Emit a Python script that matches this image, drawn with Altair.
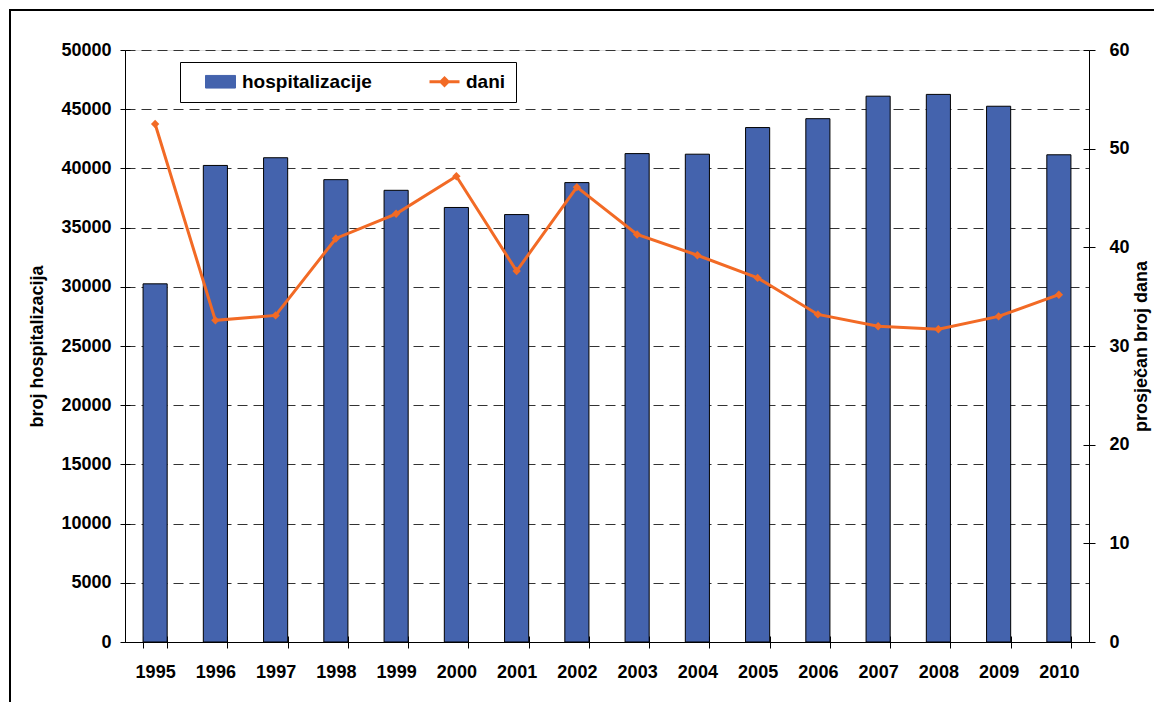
import altair as alt
import pandas as pd

years = ["1995", "1996", "1997", "1998", "1999", "2000", "2001", "2002",
         "2003", "2004", "2005", "2006", "2007", "2008", "2009", "2010"]
hospitalizacije = [30250, 40250, 40900, 39050, 38150, 36700, 36100, 38800,
                   41250, 41200, 43450, 44200, 46100, 46250, 45250, 41150]
dani = [52.5, 32.6, 33.1, 40.9, 43.4, 47.2, 37.6, 46.1,
        41.3, 39.2, 36.9, 33.2, 32.0, 31.7, 33.0, 35.2]
left_ticks = [0, 5000, 10000, 15000, 20000, 25000, 30000, 35000, 40000, 45000, 50000]
right_ticks = [0, 10, 20, 30, 40, 50, 60]
series = ["hospitalizacije", "dani"]

BLUE = "#4463ad"
ORANGE = "#f26a25"
FONT = "Liberation Sans"
W, H = 964, 592

df = pd.DataFrame({
    "godina": years,
    "hosp": hospitalizacije,
    "dani": dani,
    "s1": series[0],
    "s2": series[1],
})

rect_path = "M-1,-0.42L1,-0.42L1,0.42L-1,0.42Z"
line_path = "M-1,0L1,0M0,-0.24L0.24,0L0,0.24L-0.24,0Z"

legend = alt.Legend(
    title=None,
    orient="none",
    legendX=55,
    legendY=12,
    direction="horizontal",
    columns=2,
    columnPadding=42,
    symbolSize=900,
    symbolOffset=21,
    labelOffset=12,
    labelFont=FONT,
    labelFontSize=19,
    labelFontWeight="bold",
    labelColor="black",
    labelLimit=400,
    padding=10,
    strokeColor="black",
    fillColor="white",
    symbolType={"expr": f"datum.value === 'dani' ? '{line_path}' : '{rect_path}'"},
    symbolFillColor={"expr": f"datum.value === 'dani' ? '{ORANGE}' : '{BLUE}'"},
    symbolStrokeColor={"expr": f"datum.value === 'dani' ? '{ORANGE}' : 'black'"},
    symbolStrokeWidth={"expr": "datum.value === 'dani' ? 3 : 1"},
    symbolOpacity=1,
)

color_scale = alt.Scale(domain=series, range=[BLUE, ORANGE])
x_scale = alt.Scale(paddingInner=0.6, paddingOuter=0.3)
hosp_scale = alt.Scale(domain=[0, 50000], nice=False)
dani_scale = alt.Scale(domain=[0, 60], nice=False)

label_style = dict(labelFont=FONT, labelFontSize=18, labelFontWeight="bold", labelColor="black")
title_style = dict(titleFont=FONT, titleFontSize=18, titleFontWeight="bold", titleColor="black")
inner_ticks = dict(labels=False, domain=False, grid=False, title=None, tickColor="black")

frame = alt.Chart(df).mark_rect(fill=None, stroke="black", strokeWidth=2).encode(
    x=alt.value(-115), x2=alt.value(1300), y=alt.value(-40), y2=alt.value(900)
)

bars = alt.Chart(df).mark_bar(stroke="black", strokeWidth=1).encode(
    x=alt.X("godina:N", title=None, sort=years, scale=x_scale,
            axis=alt.Axis(labelAngle=0, tickBand="extent", tickSize=6, labelPadding=15,
                          domainColor="black", tickColor="black", grid=False, **label_style)),
    y=alt.Y("hosp:Q", scale=hosp_scale,
            axis=alt.Axis(title="broj hospitalizacija", values=left_ticks, format="d",
                          grid=True, gridDash=[10, 6], gridColor="#333333", gridWidth=1,
                          domainColor="black", tickColor="black", tickSize=5,
                          labelPadding=9, titlePadding=14, **label_style, **title_style)),
    color=alt.Color("s1:N", scale=color_scale, legend=legend),
)

line = alt.Chart(df).mark_line(
    strokeWidth=3,
    point=alt.OverlayMarkDef(shape="diamond", filled=True, size=70),
).encode(
    x=alt.X("godina:N", sort=years, scale=x_scale, axis=None),
    y=alt.Y("dani:Q", scale=dani_scale,
            axis=alt.Axis(orient="right", title="prosječan broj dana", values=right_ticks,
                          grid=False, domainColor="black", tickColor="black", tickSize=6,
                          labelPadding=14, titlePadding=3, titleAngle=270,
                          titleBaseline="top", **label_style, **title_style)),
    color=alt.Color("s2:N", scale=color_scale, legend=legend),
)

# inner halves of the crossing tick marks
ticks_left = alt.Chart(df).mark_point(opacity=0).encode(
    x=alt.X("godina:N", sort=years, scale=x_scale, axis=None),
    y=alt.Y("hosp:Q", scale=hosp_scale,
            axis=alt.Axis(orient="right", offset=-W, values=left_ticks, tickSize=5, **inner_ticks)),
)
ticks_right = alt.Chart(df).mark_point(opacity=0).encode(
    x=alt.X("godina:N", sort=years, scale=x_scale,
            axis=alt.Axis(orient="top", offset=-H, tickBand="extent", tickSize=6, **inner_ticks)),
    y=alt.Y("dani:Q", scale=dani_scale,
            axis=alt.Axis(orient="left", offset=-W, values=right_ticks, tickSize=6, **inner_ticks)),
)

chart = alt.layer(frame, bars, line, ticks_left, ticks_right).resolve_scale(
    y="independent"
).resolve_axis(x="independent", y="independent").properties(
    width=W,
    height=H,
    autosize=alt.AutoSizeParams(type="none"),
    padding={"left": 117, "top": 42, "right": 65, "bottom": 60},
).configure_view(stroke=None).configure(background="white")

chart.save("out.html", embed_options={"renderer": "svg", "actions": False})
